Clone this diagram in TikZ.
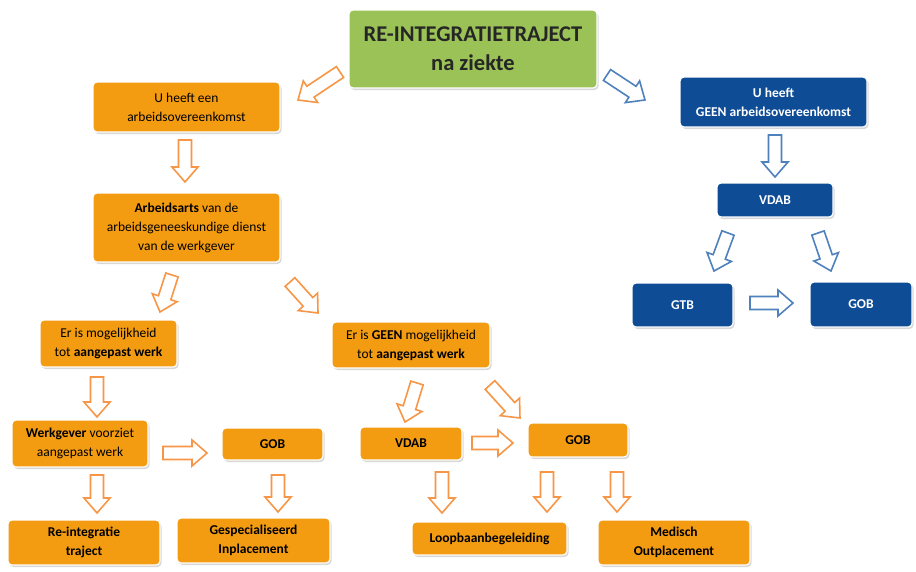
\documentclass[tikz,border=0pt]{standalone}
\usepackage{fontspec}
\setmainfont{Carlito}
\usetikzlibrary{calc,shadows}
\definecolor{boxorange}{RGB}{243,156,18}
\definecolor{boxblue}{RGB}{14,76,150}
\definecolor{boxgreen}{RGB}{155,194,86}
\definecolor{arrorange}{RGB}{247,150,70}
\definecolor{arrblue}{RGB}{79,129,189}
\newcommand\blockarrow[3]{\draw[#1] let \p1=($(#3)-(#2)$), \n1={atan2(\y1,\x1)}, \n2={veclen(\x1,\y1)} in [shift={(#2)}, rotate=\n1] (0,-6.5) -- ({\n2-15},-6.5) -- ({\n2-15},-13) -- (\n2,0) -- ({\n2-15},13) -- ({\n2-15},6.5) -- (0,6.5) -- cycle;}
\newcommand\boxfont{\fontsize{13.5}{19}\selectfont}
\begin{document}
\begin{tikzpicture}[x=1pt,y=-1pt,
  box/.style={rectangle, rounded corners=4pt, draw=white, line width=1.2pt,
    drop shadow={shadow xshift=1.5pt, shadow yshift=-2pt, opacity=0.3},
    align=center, inner sep=2pt, font=\boxfont},
  obox/.style={box, fill=boxorange, text=black},
  oboxb/.style={obox, font=\boxfont\bfseries},
  bbox/.style={box, fill=boxblue, text=white, font=\boxfont\bfseries},
  gbox/.style={box, fill=boxgreen, text=black!85, font=\fontsize{22.5}{29}\selectfont\bfseries},
  oarrow/.style={draw=arrorange, fill=white, line width=1.6pt, line join=miter},
  barrow/.style={draw=arrblue, fill=white, line width=1.6pt, line join=miter}]
\fill[white] (0,0) rectangle (916,571);
\useasboundingbox (0,0) rectangle (916,571);
% boxes
\node[gbox, minimum width=248, minimum height=78] (title) at (473,49) {RE-INTEGRATIETRAJECT\\na ziekte};
\node[obox, minimum width=187, minimum height=50] (ua) at (186.5,107) {U heeft een\\arbeidsovereenkomst};
\node[bbox, minimum width=187, minimum height=50] (ub) at (773.5,102) {U heeft\\GEEN arbeidsovereenkomst};
\node[bbox, minimum width=116, minimum height=34] (vdabR) at (775,200) {VDAB};
\node[bbox, minimum width=101, minimum height=44] (gtb) at (682.5,305) {GTB};
\node[bbox, minimum width=102, minimum height=45] (gobR) at (861,304.5) {GOB};
\node[obox, minimum width=187, minimum height=69] (arb) at (186.5,227.5) {\textbf{Arbeidsarts} van de\\arbeidsgeneeskundige dienst\\van de werkgever};
\node[obox, minimum width=137, minimum height=47] (mog) at (108.5,343.5) {Er is mogelijkheid\\tot \textbf{aangepast werk}};
\node[obox, minimum width=158, minimum height=46] (geen) at (411,345) {Er is \textbf{GEEN} mogelijkheid\\tot \textbf{aangepast werk}};
\node[obox, minimum width=136, minimum height=47] (werk) at (80,443.5) {\textbf{Werkgever} voorziet\\aangepast werk};
\node[oboxb, minimum width=101, minimum height=32] (gobL) at (272.5,444) {GOB};
\node[oboxb, minimum width=152, minimum height=45] (reint) at (84,542.5) {Re-integratie\\traject};
\node[oboxb, minimum width=153, minimum height=45] (gesp) at (253.5,540.5) {Gespecialiseerd\\Inplacement};
\node[oboxb, minimum width=102, minimum height=33] (vdabM) at (411,443.5) {VDAB};
\node[oboxb, minimum width=100, minimum height=34] (gobM) at (578,440) {GOB};
\node[oboxb, minimum width=155, minimum height=33] (loop) at (489.5,538.5) {Loopbaanbegeleiding};
\node[oboxb, minimum width=152, minimum height=45] (med) at (674,542.5) {Medisch\\Outplacement};
% arrow end points
\coordinate (a1s) at (340,72);  \coordinate (a1e) at (298,100);
\coordinate (a2s) at (607,75);  \coordinate (a2e) at (645,100);
\coordinate (a3s) at (185,140); \coordinate (a3e) at (185,182);
\coordinate (a4s) at (775,135); \coordinate (a4e) at (775,177);
\coordinate (a5s) at (728,233); \coordinate (a5e) at (714,271);
\coordinate (a6s) at (818,233); \coordinate (a6e) at (831,271);
\coordinate (a7s) at (750,303); \coordinate (a7e) at (793,303);
\coordinate (a8s) at (172,275); \coordinate (a8e) at (160,312);
\coordinate (a9s) at (290,282); \coordinate (a9e) at (318,313);
\coordinate (a10s) at (97,377); \coordinate (a10e) at (97,417);
\coordinate (a11s) at (163,453); \coordinate (a11e) at (207,453);
\coordinate (a12s) at (97,475); \coordinate (a12e) at (97,513);
\coordinate (a13s) at (278,475); \coordinate (a13e) at (278,512);
\coordinate (a14s) at (417,383); \coordinate (a14e) at (405,422);
\coordinate (a15s) at (490,385); \coordinate (a15e) at (520,418);
\coordinate (a16s) at (472,443); \coordinate (a16e) at (513,443);
\coordinate (a17s) at (442,472); \coordinate (a17e) at (442,513);
\coordinate (a18s) at (547,472); \coordinate (a18e) at (547,512);
\coordinate (a19s) at (617,472); \coordinate (a19e) at (617,512);
% arrows
\blockarrow{oarrow}{a1s}{a1e}
\blockarrow{barrow}{a2s}{a2e}
\blockarrow{oarrow}{a3s}{a3e}
\blockarrow{barrow}{a4s}{a4e}
\blockarrow{barrow}{a5s}{a5e}
\blockarrow{barrow}{a6s}{a6e}
\blockarrow{barrow}{a7s}{a7e}
\blockarrow{oarrow}{a8s}{a8e}
\blockarrow{oarrow}{a9s}{a9e}
\blockarrow{oarrow}{a10s}{a10e}
\blockarrow{oarrow}{a11s}{a11e}
\blockarrow{oarrow}{a12s}{a12e}
\blockarrow{oarrow}{a13s}{a13e}
\blockarrow{oarrow}{a14s}{a14e}
\blockarrow{oarrow}{a15s}{a15e}
\blockarrow{oarrow}{a16s}{a16e}
\blockarrow{oarrow}{a17s}{a17e}
\blockarrow{oarrow}{a18s}{a18e}
\blockarrow{oarrow}{a19s}{a19e}
\end{tikzpicture}
\end{document}
